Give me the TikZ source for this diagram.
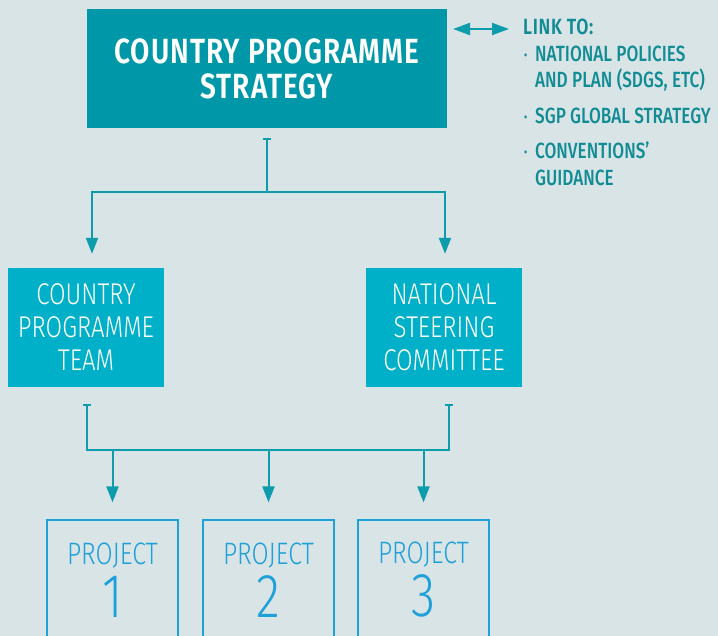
\documentclass[tikz,border=0pt]{standalone}
\usepackage{fontspec}
\setmainfont{Fira Sans}[FakeStretch=0.8]
\newfontfamily\lightfont{Fira Sans Light}[FakeStretch=0.8]
\newfontfamily\medfont{Fira Sans Medium}[FakeStretch=0.78]
\newfontfamily\semifont{Fira Sans SemiBold}[FakeStretch=0.8,LetterSpace=3]
\usetikzlibrary{arrows.meta}

\definecolor{bgcol}{RGB}{217,228,231}
\definecolor{topcol}{RGB}{0,152,168}
\definecolor{midcol}{RGB}{0,176,200}
\definecolor{linkcol}{RGB}{12,156,172}
\definecolor{projcol}{RGB}{30,160,216}
\definecolor{txtcol}{RGB}{18,140,148}

\newcommand{\smallbul}{\makebox[11pt][l]{\fontsize{12}{12}\selectfont\raisebox{2.5pt}{\textbullet}}}

\begin{document}
\begin{tikzpicture}[x=1pt,y=-1pt,
    link/.style={draw=linkcol,line width=2pt},
    tip/.style={-{Triangle[width=12pt,length=16pt]}},
    tee/.style={{Bar[width=8pt,line width=2pt]}-}]

        \fill[bgcol] (0,0) rectangle (718,636);
        \clip (0,0) rectangle (718,636);

        \begin{scope}[every node/.style={inner sep=0pt,align=center,text=white}]
          \node[fill=topcol,minimum width=360,minimum height=119,
                font=\semifont\fontsize{35}{35}\selectfont] (cps) at (267,68.5)
                {COUNTRY PROGRAMME\\STRATEGY};
          \node[fill=midcol,minimum width=156,minimum height=119,
                font=\lightfont\fontsize{30}{33}\selectfont] (cpt) at (86,327.5)
                {COUNTRY\\PROGRAMME\\TEAM};
          \node[fill=midcol,minimum width=156,minimum height=119,
                font=\lightfont\fontsize{30}{33}\selectfont] (nsc) at (444,327.5)
                {NATIONAL\\STEERING\\COMMITTEE};
        \end{scope}

        \begin{scope}[every node/.style={inner sep=0pt,align=center,text=projcol,
            draw=projcol,line width=1.2pt,minimum width=131,minimum height=120,
            font=\lightfont\fontsize{31}{53}\selectfont}]
          \node (p1) at (112.5,580) {PROJECT\\{\fontsize{62}{53}\selectfont 1}};
          \node (p2) at (268.5,580) {PROJECT\\{\fontsize{62}{53}\selectfont 2}};
          \node (p3) at (423.5,580) {PROJECT\\{\fontsize{62}{53}\selectfont 3}};
        \end{scope}

        % connectors
        \coordinate (t1) at (267,138);
        \coordinate (f1) at (267,192);
        \coordinate (t2) at (87,404);
        \coordinate (f2) at (87,450);
        \coordinate (t3) at (449,404);
        \coordinate (f3) at (449,450);
        \coordinate (la) at (453,29);
        \coordinate (lb) at (509,29);

        \draw[link,tee] (t1) -- (f1);
        \draw[link,tip,shorten >=14pt] (f1) -| ([xshift=6pt]cpt.north);
        \draw[link,tip,shorten >=14pt] (f1) -| ([xshift=1pt]nsc.north);

        \draw[link,{Bar[width=8pt,line width=2pt]}-{Bar[width=8pt,line width=2pt]}]
          (t2) -- (f2) -- (f3) -- (t3);
        \draw[link,tip,shorten >=17pt] (p1.north |- f2) -- (p1.north);
        \draw[link,tip,shorten >=17pt] (p2.north |- f2) -- (p2.north);
        \draw[link,tip,shorten >=17pt] (p3.north |- f2) -- (p3.north);

        \draw[link,{Triangle[width=12pt,length=17pt]}-{Triangle[width=12pt,length=17pt]}]
          (la) -- (lb);

        \begin{scope}[every node/.style={inner sep=0pt,anchor=base west,text=txtcol,
            font=\medfont\fontsize{22}{26}\selectfont}]
          \node (lnk)   at (523,35)  {\semifont LINK TO:};
          \node (pol1)  at (524,62)  {\smallbul NATIONAL POLICIES};
          \node (pol2)  at (535,88)  {AND PLAN (SDGS, ETC)};
          \node (sgp)   at (524,124) {\smallbul SGP GLOBAL STRATEGY};
          \node (conv1) at (524,159) {\smallbul CONVENTIONS’};
          \node (conv2) at (535,186) {GUIDANCE};
        \end{scope}

      \end{tikzpicture}
\end{document}
